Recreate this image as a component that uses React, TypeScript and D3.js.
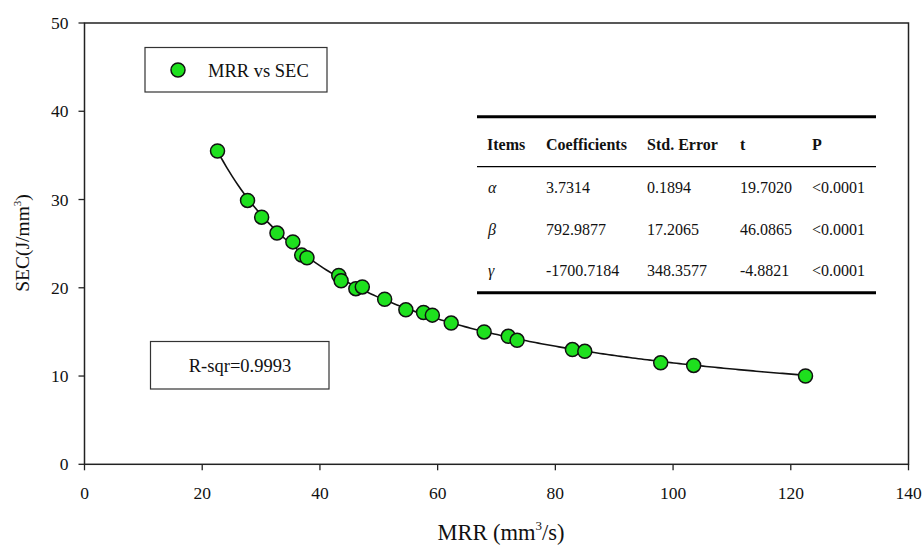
import * as d3 from "d3";

// measured data: MRR (mm3/s) vs SEC (J/mm3)
const mrr = [22.6, 27.7, 30.1, 32.7, 35.4, 36.9, 37.8, 43.2, 43.6, 46.1, 47.2, 51.0, 54.6, 57.6, 59.1, 62.3, 67.9, 72.0, 73.5, 82.9, 85.0, 97.9, 103.5, 122.5];
const sec = [35.5, 29.9, 28.0, 26.2, 25.2, 23.7, 23.4, 21.4, 20.8, 19.9, 20.1, 18.7, 17.5, 17.2, 16.9, 16.0, 15.0, 14.5, 14.05, 13.0, 12.8, 11.5, 11.2, 10.0];

const xTicks = [0, 20, 40, 60, 80, 100, 120, 140];
const yTicks = [0, 10, 20, 30, 40, 50];

// fitted model SEC = a + b/MRR + c/MRR^2, coefficients from the table
const coefItems = ["α", "β", "γ"];
const coefValues = ["3.7314", "792.9877", "-1700.7184"];
const stdErrors = ["0.1894", "17.2065", "348.3577"];
const tValues = ["19.7020", "46.0865", "-4.8821"];
const pValues = ["<0.0001", "<0.0001", "<0.0001"];
const headers = ["Items", "Coefficients", "Std. Error", "t", "P"];
const rSqr = "R-sqr=0.9993";

const W = 924;
const H = 547;
const FONT = "'Liberation Serif', 'Times New Roman', serif";

export default function App() {
    const x = d3.scaleLinear().domain([0, 140]).range([84.5, 908.5]);
    const y = d3.scaleLinear().domain([0, 50]).range([464.3, 23]);

    const a = Number(coefValues[0]);
    const b = Number(coefValues[1]);
    const c = Number(coefValues[2]);
    const fitX = d3.range(d3.min(mrr)!, d3.max(mrr)! + 0.01, 0.5);
    const line = d3.line<number>()
        .x(d => x(d))
        .y(d => y(a + b / d + c / (d * d)));

    // table column positions
    const colX = [487, 546, 647, 740, 812];
    const rows = coefItems.map((it, i) => [it, coefValues[i], stdErrors[i], tValues[i], pValues[i]]);

    return (
        <svg width={W} height={H} style={{ display: "block", position: "absolute", left: 0, top: 0, background: "#fff" }} fontFamily={FONT}>
            <rect x={0} y={0} width={W} height={H} fill="#fff" />

            {/* frame */}
            <rect x={x(0)} y={y(50)} width={x(140) - x(0)} height={y(0) - y(50)} fill="none" stroke="#222" strokeWidth={1.5} />

            {/* x ticks */}
            {xTicks.map(t => (
                <g key={"x" + t}>
                    <line x1={x(t)} x2={x(t)} y1={y(0)} y2={y(0) + 6} stroke="#222" strokeWidth={1.3} />
                    <text x={x(t)} y={499} textAnchor="middle" fontSize={17.5} fill="#111">{t}</text>
                </g>
            ))}

            {/* y ticks */}
            {yTicks.map(t => (
                <g key={"y" + t}>
                    <line x1={x(0) - 6} x2={x(0)} y1={y(t)} y2={y(t)} stroke="#222" strokeWidth={1.3} />
                    <text x={68.5} y={y(t) + 6} textAnchor="end" fontSize={17.5} fill="#111">{t}</text>
                </g>
            ))}

            {/* axis titles */}
            <text x={501} y={540} textAnchor="middle" fontSize={22.5} fill="#111">
                MRR (mm<tspan dy={-10} fontSize={13}>3</tspan><tspan dy={10}>/s)</tspan>
            </text>
            <text transform="translate(29,243) rotate(-90)" textAnchor="middle" fontSize={19.5} fill="#111">
                SEC(J/mm<tspan dy={-8} fontSize={11}>3</tspan><tspan dy={8}>)</tspan>
            </text>

            {/* fit curve */}
            <path d={line(fitX) ?? ""} fill="none" stroke="#111" strokeWidth={1.6} />

            {/* points */}
            {mrr.map((m, i) => (
                <circle key={i} cx={x(m)} cy={y(sec[i])} r={7} fill="#1ee01e" stroke="#111" strokeWidth={1.5} />
            ))}

            {/* legend */}
            <rect x={145} y={47.5} width={182} height={44.5} fill="#fff" stroke="#333" strokeWidth={1.2} />
            <circle cx={178} cy={70} r={7} fill="#1ee01e" stroke="#111" strokeWidth={1.5} />
            <text x={208} y={76.5} fontSize={18.5} fill="#111">MRR vs SEC</text>

            {/* R-sqr box */}
            <rect x={150.5} y={341.5} width={178.5} height={47.5} fill="#fff" stroke="#333" strokeWidth={1.2} />
            <text x={240} y={372} textAnchor="middle" fontSize={18.5} fill="#111">{rSqr}</text>

            {/* coefficient table */}
            <line x1={477} x2={876} y1={116.7} y2={116.7} stroke="#000" strokeWidth={3} />
            <line x1={477} x2={876} y1={166.7} y2={166.7} stroke="#000" strokeWidth={1.3} />
            <line x1={477} x2={876} y1={292.7} y2={292.7} stroke="#000" strokeWidth={3} />
            {headers.map((h, j) => (
                <text key={h} x={colX[j]} y={150} fontSize={16} fontWeight="bold" fill="#111">{h}</text>
            ))}
            {rows.map((r, i) => r.map((v, j) => (
                <text key={i + "-" + j} x={colX[j] + (j === 0 ? 1 : 0)} y={193 + i * 41.5} fontSize={16}
                    fontStyle={j === 0 ? "italic" : "normal"} fill="#111">{v}</text>
            )))}
        </svg>
    );
}
